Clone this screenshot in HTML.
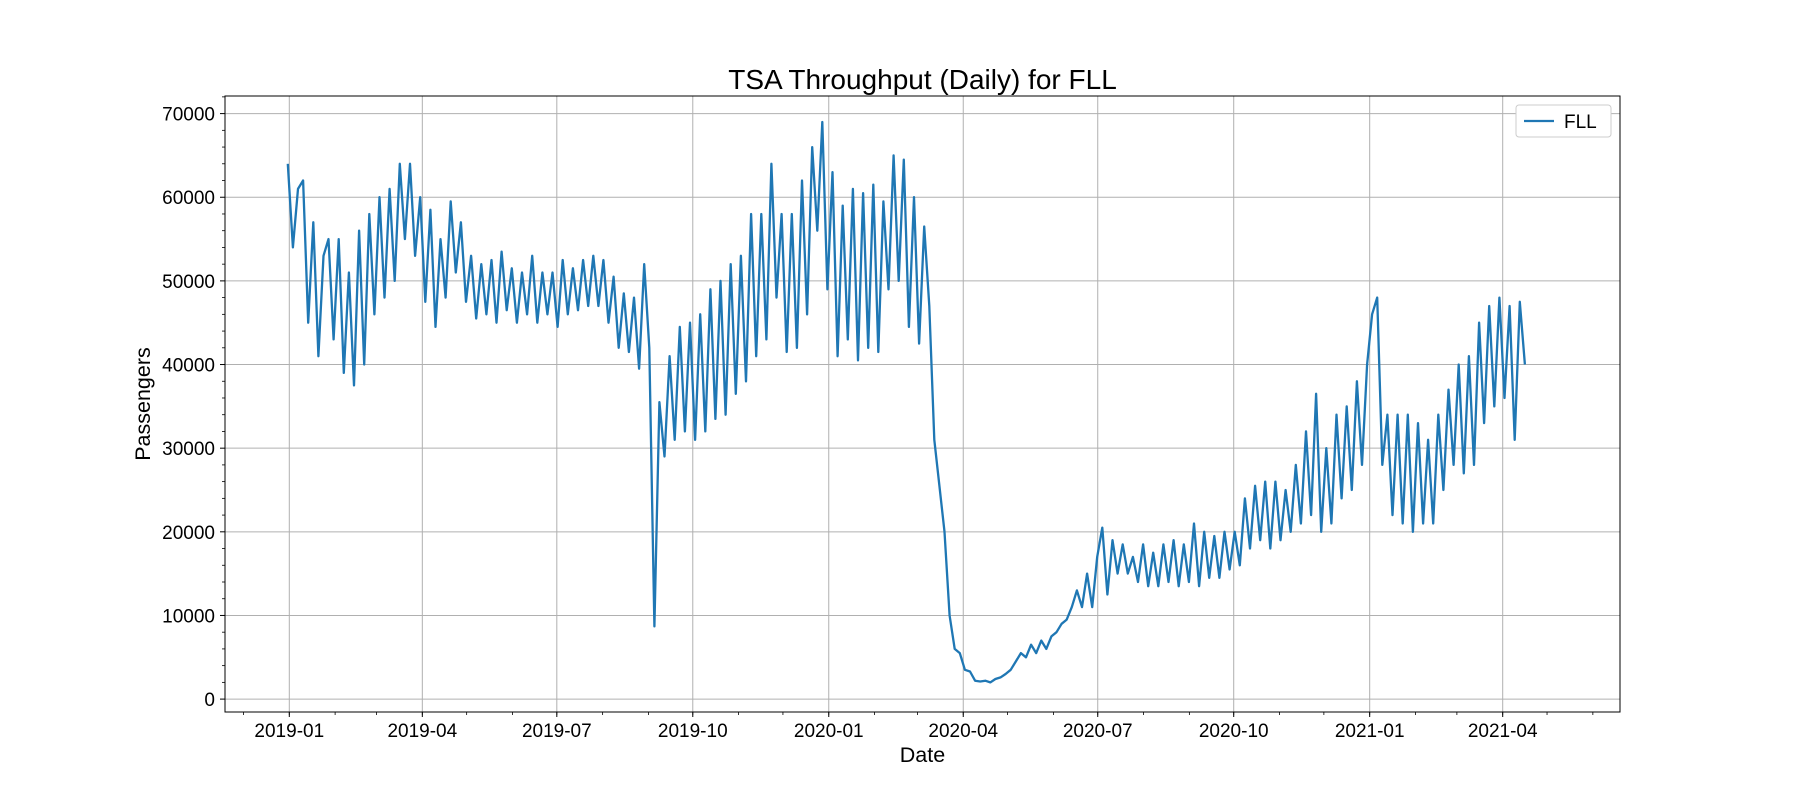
<!DOCTYPE html>
<html><head><meta charset="utf-8"><style>
body{margin:0;background:#fff}
svg text{font-family:"Liberation Sans","DejaVu Sans",sans-serif;fill:#000}
</style></head><body>
<svg id="chart" width="1800" height="800" viewBox="0 0 1800 800" xmlns="http://www.w3.org/2000/svg">
<rect width="1800" height="800" fill="#fff"/>
<g id="grid"></g>
<g id="series"></g>
<g id="axes"></g>
<text x="922.5" y="89" font-size="28" text-anchor="middle">TSA Throughput (Daily) for FLL</text>
<text x="922.5" y="762" font-size="21.5" text-anchor="middle">Date</text>
<text x="150" y="404" font-size="21.5" text-anchor="middle" transform="rotate(-90 150 404)">Passengers</text>
<g>
<rect x="1516" y="105" width="95" height="32" rx="3" fill="#fff" stroke="#ccc" stroke-width="1"/>
<line x1="1524" y1="121" x2="1554" y2="121" stroke="#1f77b4" stroke-width="2.2"/>
<text x="1564" y="128" font-size="19">FLL</text>
</g>
</svg>
<script>
const startDate = "2018-12-31";
const endDate = "2021-04-16";
const values = [
64000,54000,61000,62000,45000,57000,41000,53000,55000,
43000,55000,39000,51000,37500,56000,40000,58000,
46000,60000,48000,61000,50000,64000,55000,64000,53000,
60000,47500,58500,44500,55000,48000,59500,51000,57000,
47500,53000,45500,52000,46000,52500,45000,53500,46500,
51500,45000,51000,46000,53000,45000,51000,46000,51000,
44500,52500,46000,51500,46500,52500,47000,53000,47000,
52500,45000,50500,42000,48500,41500,48000,39500,52000,
42000,8700,35500,29000,41000,31000,44500,32000,45000,
31000,46000,32000,49000,33500,50000,34000,52000,36500,53000,
38000,58000,41000,58000,43000,64000,48000,58000,
41500,58000,42000,62000,46000,66000,56000,69000,
49000,63000,41000,59000,43000,61000,40500,60500,42000,
61500,41500,59500,49000,65000,50000,64500,44500,60000,
42500,56500,47000,31000,25500,20000,10000,6000,5500,
3500,3300,2200,2100,2200,2000,2400,2600,3000,
3500,4500,5500,5000,6500,5500,7000,6000,7500,
8000,9000,9500,11000,13000,11000,15000,11000,17000,
20500,12500,19000,15000,18500,15000,17000,14000,18500,
13500,17500,13500,18500,14000,19000,13500,18500,14000,
21000,13500,20000,14500,19500,14500,20000,15500,20000,
16000,24000,18000,25500,19000,26000,18000,26000,19000,
25000,20000,28000,21000,32000,22000,36500,20000,30000,
21000,34000,24000,35000,25000,38000,28000,40000,46000,
48000,28000,34000,22000,34000,21000,34000,20000,33000,
21000,31000,21000,34000,25000,37000,28000,40000,
27000,41000,28000,45000,33000,47000,35000,48000,36000,
47000,31000,47500,40000
];
const xTickLabels = ["2019-01","2019-04","2019-07","2019-10","2020-01","2020-04","2020-07","2020-10","2021-01","2021-04"];
const yTickValues = [0,10000,20000,30000,40000,50000,60000,70000];

const NS="http://www.w3.org/2000/svg";
const L=225,R=1620,T=96,B=712;
const day0=Date.UTC(2019,0,1);
function dayOf(s){const p=s.split("-").map(Number);return (Date.UTC(p[0],p[1]-1,p[2]||1)-day0)/86400000;}
const pxDay=(1502.7-289.3)/821;
function xs(d){return 289.3+d*pxDay;}
function ys(v){return 699.1-v*(699.1-113.6)/70000;}
function mk(tag,attrs,parent){const e=document.createElementNS(NS,tag);for(const k in attrs)e.setAttribute(k,attrs[k]);parent.appendChild(e);return e;}
const grid=document.getElementById("grid"),axes=document.getElementById("axes"),series=document.getElementById("series");
xTickLabels.forEach(lab=>{
  const x=xs(dayOf(lab+"-01"));
  const g=mk("line",{x1:x,x2:x,y1:T,y2:B,stroke:"#b0b0b0","stroke-width":1},grid);
  
  
  mk("line",{x1:x,x2:x,y1:B,y2:B+5,stroke:"#000","stroke-width":1},axes);
  const t=mk("text",{x:x,y:B+25,"font-size":19,"text-anchor":"middle"},axes);
  t.textContent=lab;
  
  
});
for(let y=2018;y<=2021;y++)for(let m=0;m<12;m++){
  const d=(Date.UTC(y,m,1)-day0)/86400000;const x=xs(d);
  if(x<L||x>R)continue;
  mk("line",{x1:x,x2:x,y1:B,y2:B+3,stroke:"#000","stroke-width":0.8},axes);
}
yTickValues.forEach(v=>{
  const y=ys(v);
  const g=mk("line",{x1:L,x2:R,y1:y,y2:y,stroke:"#b0b0b0","stroke-width":1},grid);
  
  
  mk("line",{x1:L-5,x2:L,y1:y,y2:y,stroke:"#000","stroke-width":1},axes);
  const t=mk("text",{x:L-10,y:y+7,"font-size":19,"text-anchor":"end"},axes);
  t.textContent=v;
  
  
});
for(let v=0;v<=72000;v+=2000){if(v%10000===0)continue;const y=ys(v);mk("line",{x1:L-3,x2:L,y1:y,y2:y,stroke:"#000","stroke-width":0.8},axes);}
const fr=mk("rect",{x:L,y:T,width:R-L,height:B-T,fill:"none",stroke:"#000","stroke-width":1},axes);


const d0=dayOf(startDate),d1=dayOf(endDate),n=values.length;
const pts=values.map((v,i)=>{const d=d0+(d1-d0)*i/(n-1);return xs(d).toFixed(1)+","+ys(v).toFixed(1);}).join(" ");
const line=mk("polyline",{points:pts,fill:"none",stroke:"#1f77b4","stroke-width":2.3,"stroke-linejoin":"round"},series);


</script>
</body></html>
